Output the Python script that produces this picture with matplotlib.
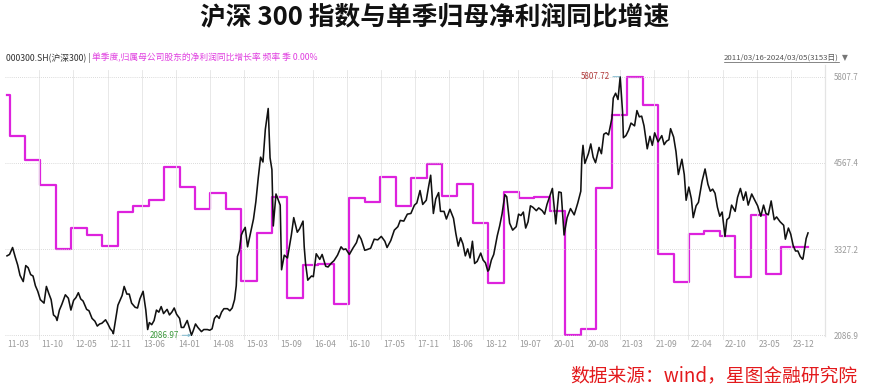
"""CSI 300 index vs. single-quarter net profit YoY growth (Wind style chart)."""
import math

import matplotlib
matplotlib.use("Agg")
import matplotlib.pyplot as plt
import matplotlib.transforms as mtransforms
from matplotlib.lines import Line2D
import numpy as np
import pandas as pd

plt.rcParams["font.family"] = ["Noto Sans CJK SC", "DejaVu Sans"]

# --- CSI 300 close (~semi-monthly) ---
csi_dates = [
    # 2011
    "2011-03-16", "2011-03-31", "2011-04-18", "2011-05-04", "2011-05-18", "2011-06-01", "2011-06-20",
    "2011-07-05", "2011-07-19", "2011-08-03", "2011-08-17", "2011-08-31", "2011-09-14", "2011-09-29",
    "2011-10-21", "2011-11-04", "2011-11-18", "2011-12-02", "2011-12-16", "2011-12-30",
    # 2012
    "2012-01-06", "2012-01-20", "2012-02-03", "2012-02-24", "2012-03-13", "2012-03-28", "2012-04-13",
    "2012-04-27", "2012-05-11", "2012-05-25", "2012-06-08", "2012-06-29", "2012-07-13", "2012-07-31",
    "2012-08-17", "2012-08-31", "2012-09-14", "2012-09-27", "2012-10-19", "2012-11-02", "2012-11-16",
    "2012-11-30", "2012-12-04", "2012-12-14", "2012-12-31",
    # 2013
    "2013-01-11", "2013-01-25", "2013-02-06", "2013-02-22", "2013-03-08", "2013-03-22", "2013-04-12",
    "2013-04-26", "2013-05-10", "2013-05-29", "2013-06-14", "2013-06-25", "2013-07-05", "2013-07-19",
    "2013-08-02", "2013-08-16", "2013-08-30", "2013-09-13", "2013-09-27", "2013-10-18", "2013-11-01",
    "2013-11-15", "2013-11-29", "2013-12-13", "2013-12-31",
    # 2014
    "2014-01-10", "2014-01-24", "2014-02-14", "2014-02-28", "2014-03-11", "2014-03-21", "2014-04-04",
    "2014-04-18", "2014-05-09", "2014-05-23", "2014-06-13", "2014-06-27", "2014-07-11", "2014-07-25",
    "2014-08-08", "2014-08-22", "2014-09-05", "2014-09-19", "2014-10-10", "2014-10-24", "2014-11-07",
    "2014-11-21", "2014-12-01", "2014-12-08", "2014-12-19", "2014-12-31",
    # 2015
    "2015-01-09", "2015-01-23", "2015-02-06", "2015-02-27", "2015-03-13", "2015-03-27", "2015-04-10",
    "2015-04-24", "2015-05-08", "2015-05-22", "2015-06-08", "2015-06-19", "2015-06-30", "2015-07-08",
    "2015-07-24", "2015-08-07", "2015-08-18", "2015-08-26", "2015-09-11", "2015-09-30", "2015-10-23",
    "2015-11-06", "2015-11-27", "2015-12-11", "2015-12-31",
    # 2016
    "2016-01-07", "2016-01-15", "2016-01-28", "2016-02-19", "2016-03-01", "2016-03-18", "2016-04-08",
    "2016-04-22", "2016-05-13", "2016-05-27", "2016-06-17", "2016-07-01", "2016-07-22", "2016-08-12",
    "2016-08-26", "2016-09-09", "2016-09-30", "2016-10-21", "2016-11-11", "2016-11-25", "2016-12-09",
    "2016-12-30",
    # 2017
    "2017-01-13", "2017-02-03", "2017-02-24", "2017-03-17", "2017-04-07", "2017-04-28", "2017-05-11",
    "2017-06-02", "2017-06-23", "2017-07-14", "2017-07-28", "2017-08-18", "2017-09-08", "2017-09-29",
    "2017-10-20", "2017-11-03", "2017-11-22", "2017-12-08", "2017-12-29",
    # 2018
    "2018-01-12", "2018-01-24", "2018-02-09", "2018-02-23", "2018-03-12", "2018-03-23", "2018-04-13",
    "2018-04-27", "2018-05-18", "2018-06-08", "2018-06-22", "2018-07-06", "2018-07-20", "2018-08-03",
    "2018-08-17", "2018-08-31", "2018-09-14", "2018-09-28", "2018-10-11", "2018-10-26", "2018-11-16",
    "2018-11-30", "2018-12-14", "2018-12-28",
    # 2019
    "2019-01-04", "2019-01-18", "2019-02-01", "2019-02-22", "2019-03-08", "2019-03-22", "2019-04-08",
    "2019-04-19", "2019-05-06", "2019-05-24", "2019-06-14", "2019-06-28", "2019-07-12", "2019-07-26",
    "2019-08-09", "2019-08-23", "2019-09-06", "2019-09-20", "2019-10-11", "2019-10-25", "2019-11-15",
    "2019-11-29", "2019-12-13", "2019-12-31",
    # 2020
    "2020-01-14", "2020-02-03", "2020-02-21", "2020-03-06", "2020-03-23", "2020-04-10", "2020-04-30",
    "2020-05-22", "2020-06-12", "2020-06-30", "2020-07-06", "2020-07-13", "2020-07-24", "2020-08-14",
    "2020-08-28", "2020-09-11", "2020-09-25", "2020-10-16", "2020-10-30", "2020-11-13", "2020-11-27",
    "2020-12-11", "2020-12-31",
    # 2021
    "2021-01-08", "2021-01-22", "2021-02-05", "2021-02-18", "2021-03-04", "2021-03-09", "2021-03-24",
    "2021-04-09", "2021-04-23", "2021-05-14", "2021-05-28", "2021-06-11", "2021-06-25", "2021-07-09",
    "2021-07-28", "2021-08-13", "2021-08-27", "2021-09-10", "2021-09-30", "2021-10-22", "2021-11-05",
    "2021-11-19", "2021-12-03", "2021-12-13", "2021-12-31",
    # 2022
    "2022-01-14", "2022-01-28", "2022-02-18", "2022-03-04", "2022-03-15", "2022-03-31", "2022-04-15",
    "2022-04-26", "2022-05-13", "2022-05-27", "2022-06-17", "2022-07-05", "2022-07-22", "2022-08-05",
    "2022-08-19", "2022-09-02", "2022-09-16", "2022-09-30", "2022-10-14", "2022-10-31", "2022-11-11",
    "2022-11-25", "2022-12-09", "2022-12-30",
    # 2023
    "2023-01-13", "2023-01-30", "2023-02-17", "2023-03-03", "2023-03-17", "2023-04-07", "2023-04-21",
    "2023-05-12", "2023-05-31", "2023-06-16", "2023-06-30", "2023-07-14", "2023-07-31", "2023-08-18",
    "2023-09-01", "2023-09-22", "2023-10-13", "2023-10-23", "2023-11-10", "2023-11-24", "2023-12-08",
    "2023-12-22",
    # 2024
    "2024-01-05", "2024-01-19", "2024-02-02", "2024-02-05", "2024-02-23", "2024-03-05",
]
csi_close = [
    # 2011
    3230, 3250, 3350, 3210, 3100, 2950, 2860, 3090, 3060, 2960, 2940, 2800, 2720, 2600,
    2550, 2790, 2690, 2600, 2380, 2350,
    # 2012
    2300, 2450, 2530, 2670, 2620, 2450, 2590, 2630, 2700, 2610, 2580, 2460, 2440, 2330,
    2290, 2220, 2250, 2260, 2310, 2250, 2180, 2140, 2110, 2260, 2520,
    # 2013
    2580, 2660, 2790, 2680, 2680, 2550, 2490, 2480, 2610, 2720, 2450, 2170, 2270, 2240,
    2300, 2450, 2420, 2500, 2400, 2460, 2380, 2420, 2480, 2390, 2330,
    # 2014
    2200, 2200, 2300, 2180, 2086.97, 2150, 2250, 2200, 2140, 2170, 2170, 2160, 2180, 2330,
    2370, 2330, 2420, 2470, 2470, 2440, 2480, 2600, 2800, 3220, 3300, 3530,
    # 2015
    3580, 3640, 3360, 3600, 3760, 4010, 4350, 4650, 4580, 5050, 5350, 4640, 4470, 3660,
    4120, 4030, 3960, 3030, 3240, 3200, 3530, 3780, 3570, 3620, 3730,
    # 2016
    3360, 3120, 2880, 2940, 2930, 3260, 3180, 3250, 3080, 3070, 3130, 3160, 3240, 3360,
    3320, 3330, 3250, 3340, 3420, 3530, 3470, 3310,
    # 2017
    3320, 3340, 3470, 3460, 3510, 3440, 3350, 3450, 3600, 3650, 3740, 3730, 3830, 3840,
    3960, 3990, 4170, 3970, 4030,
    # 2018
    4230, 4390, 3840, 4050, 4140, 3870, 3870, 3760, 3900, 3770, 3550, 3370, 3490, 3400,
    3230, 3330, 3200, 3440, 3120, 3150, 3270, 3170, 3130, 3010,
    # 2019
    3030, 3170, 3250, 3520, 3660, 3830, 4110, 4080, 3700, 3600, 3650, 3830, 3810, 3860,
    3630, 3720, 3950, 3930, 3880, 3920, 3880, 3830, 3970, 4100,
    # 2020
    4200, 3690, 4150, 4140, 3530, 3780, 3910, 3820, 3990, 4160, 4630, 4820, 4560, 4700,
    4840, 4650, 4570, 4790, 4700, 4980, 5000, 4970, 5210,
    # 2021
    5500, 5570, 5480, 5807.72, 5300, 4930, 4960, 5040, 5140, 5100, 5320, 5230, 5240, 5100,
    4770, 4950, 4820, 5000, 4870, 4960, 4830, 4880, 4900, 5060, 4940,
    # 2022
    4730, 4400, 4620, 4400, 4030, 4220, 4050, 3780, 3950, 4000, 4300, 4480, 4260, 4160,
    4190, 4130, 3930, 3800, 3860, 3510, 3750, 3780, 3960, 3870,
    # 2023
    4070, 4200, 4030, 4150, 3960, 4120, 4050, 3950, 3800, 3960, 3840, 3820, 4020, 3750,
    3790, 3720, 3670, 3470, 3630, 3540, 3380, 3300,
    # 2024
    3300, 3220, 3180, 3200, 3480, 3560,
]

# --- single-quarter net profit YoY (%), held from each quarter end ---
growth_quarter_ends = pd.date_range("2010-12-31", "2023-12-31", freq="QE")
growth_yoy = [
    42.9,
    31.5, 24.8, 17.8, 0.0,
    5.8, 3.9, 0.9, 10.2,
    12.0, 13.7, 22.8, 17.4,
    11.1, 15.7, 11.2, -8.8,
    4.6, 14.6, -13.5, -4.4,
    -4.1, -15.4, 14.3, 13.2,
    20.2, 12.1, 19.7, 23.7,
    14.9, 18.0, 7.2, -9.5,
    16.0, 14.3, 14.6, 10.7,
    -24.0, -22.3, 16.9, 37.3,
    48.0, 40.1, -1.4, -9.2,
    4.1, 5.1, 3.7, -7.7,
    9.5, -7.0, 0.7, 0.7,
]

x_tick_labels = ["11-03", "11-10", "12-05", "12-11", "13-06", "14-01", "14-08", "15-03",
                 "15-09", "16-04", "16-10", "17-05", "17-11", "18-06", "18-12", "19-07",
                 "20-01", "20-08", "21-03", "21-09", "22-04", "22-10", "23-05", "23-12"]

TITLE = "沪深 300 指数与单季归母净利润同比增速"
HEADER_LEFT = "000300.SH(沪深300) | "
HEADER_SERIES = "单季度,归属母公司股东的净利润同比增长率 频率 季 0.00%"
HEADER_RANGE = "2011/03/16-2024/03/05(3153日)"
SOURCE = "数据来源：wind，星图金融研究院"

BLACK = "#111111"
MAGENTA = "#DD22DD"
GRID = "#e4e4e4"
TICK_GRAY = "#9a9a9a"

assert len(csi_dates) == len(csi_close)
assert len(growth_quarter_ends) == len(growth_yoy)


def main() -> None:
    W, H = 869, 389
    fig = plt.figure(figsize=(W / 100, H / 100), dpi=100)
    # plot box in pixel terms: x 5..825, y 65..336
    ax = fig.add_axes([5 / W, 1 - 336 / H, 820 / W, (336 - 65) / H])

    dates = pd.to_datetime(csi_dates)
    close = np.array(csi_close, dtype=float)
    start, end = dates[0], dates[-1]
    span = (end - start).days

    lo, hi = close.min(), close.max()
    rng = hi - lo
    ax.set_ylim(lo - 0.0027 * rng, hi + 0.0452 * rng)
    ax.set_xlim(start - pd.Timedelta(days=0.0025 * span), end + pd.Timedelta(days=0.0212 * span))

    # vertical grid, evenly spaced across the box
    xl = ax.get_xlim()
    ticks = np.linspace(xl[0], xl[1], 25)
    for t in ticks[1:-1]:
        ax.axvline(t, ymin=-0.01, ymax=0.982, color=GRID, lw=0.6, zorder=0, clip_on=False)

    yticks = [lo + k * rng / 3 for k in range(4)]
    for v in yticks:
        ax.axhline(v, color="#cfcfcf", lw=0.6, ls=(0, (1, 1.5)), zorder=0)

    ax.plot(dates, close, color=BLACK, lw=1.15, zorder=3)

    # magenta step series on hidden twin axis
    ax2 = ax.twinx()
    g_dates = list(growth_quarter_ends)
    g_dates[0] = max(g_dates[0], start)
    g_vals = list(growth_yoy)
    g_dates.append(end)
    g_vals.append(g_vals[-1])
    g = np.array(g_vals)
    glo, ghi = g.min(), g.max()
    grng = ghi - glo
    ax2.set_ylim(glo - 0.0027 * grng, ghi + 0.0452 * grng)
    ax2.plot(g_dates, g, color=MAGENTA, lw=1.6, drawstyle="steps-post", zorder=2)
    ax2.set_yticks([])
    ax.set_zorder(ax2.get_zorder() + 1)
    ax.patch.set_visible(False)

    # x ticks
    ax.set_xticks(ticks[:-1])
    ax.set_xticklabels(x_tick_labels)
    ax.tick_params(axis="x", length=0, pad=3, labelsize=6.1, labelcolor=TICK_GRAY)
    offset = mtransforms.ScaledTranslation(2 / 100, 0, fig.dpi_scale_trans)
    for lab in ax.get_xticklabels():
        lab.set_ha("left")
        lab.set_transform(lab.get_transform() + offset)

    # y ticks on the right, truncated to one decimal
    ax.yaxis.tick_right()
    ax.set_yticks(yticks)
    ax.set_yticklabels([f"{math.floor(v * 10) / 10:.1f}" for v in yticks])
    ax.tick_params(axis="y", length=0, pad=6, labelsize=5.8, labelcolor=TICK_GRAY)

    for a in (ax, ax2):
        for side in ("left", "bottom", "top"):
            a.spines[side].set_visible(False)
        a.spines["right"].set_color(GRID)
        a.spines["right"].set_linewidth(0.8)

    # max / min labels
    imax, imin = int(close.argmax()), int(close.argmin())
    ax.annotate(f"{close[imax]:.2f}", xy=(dates[imax], close[imax]), xytext=(-10, 0),
                textcoords="offset pixels", ha="right", va="center", fontsize=5.8,
                color="#B03A3A",
                arrowprops=dict(arrowstyle="-", color="#7fb8cc", lw=0.7, shrinkA=0, shrinkB=0))
    ax.annotate(f"{close[imin]:.2f}", xy=(dates[imin], close[imin]), xytext=(-12, 0),
                textcoords="offset pixels", ha="right", va="center", fontsize=5.8,
                color="#3C9A3C",
                arrowprops=dict(arrowstyle="->", mutation_scale=4, color="#7fb8cc", lw=0.7,
                                shrinkA=0, shrinkB=0))

    # title, header, source
    fig.text(0.5, 1 - 17 / H, TITLE, ha="center", va="center", fontsize=18.5,
             fontweight="bold", color="#111111")
    t1 = fig.text(6 / W, 1 - 58 / H, HEADER_LEFT, ha="left", va="center", fontsize=6.3,
                  color="#333333")
    ax.annotate(HEADER_SERIES, xy=(1, 0.5), xycoords=t1, ha="left", va="center",
                fontsize=6.3, color="#E040E0", annotation_clip=False)
    t3 = fig.text(839 / W, 1 - 58 / H, HEADER_RANGE, ha="right", va="center",
                  fontsize=5.6, color="#555555")
    fig.text(842 / W, 1 - 58 / H, "▼", ha="left", va="center", fontsize=5.5,
             color="#777777", family=["DejaVu Sans"])
    fig.text(857 / W, 1 - 376 / H, SOURCE, ha="right", va="center", fontsize=13.5,
             color="#E3191C")

    fig.canvas.draw()
    bb = t3.get_window_extent()
    fig.add_artist(Line2D([bb.x0 / W, bb.x1 / W], [(bb.y0 + 0.5) / H] * 2,
                          transform=fig.transFigure, color="#555555", lw=0.5))

    fig.savefig("out.png", dpi=100)
    plt.close(fig)


if __name__ == "__main__":
    main()
